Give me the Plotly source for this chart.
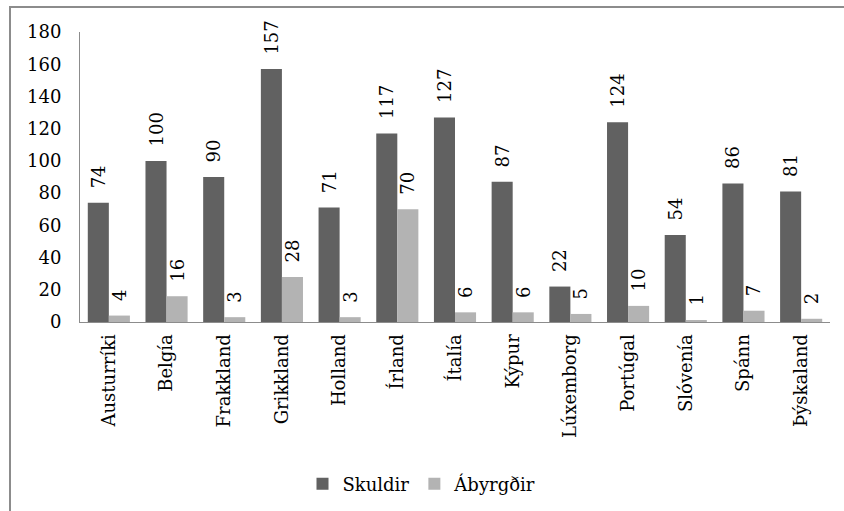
import plotly.graph_objects as go

categories = ["Austurríki", "Belgía", "Frakkland", "Grikkland", "Holland", "Írland",
              "Ítalía", "Kýpur", "Lúxemborg", "Portúgal", "Slóvenía", "Spánn", "Þýskaland"]
skuldir = [74, 100, 90, 157, 71, 117, 127, 87, 22, 124, 54, 86, 81]
abyrgdir = [4, 16, 3, 28, 3, 70, 6, 6, 5, 10, 1, 7, 2]
y_ticks = [0, 20, 40, 60, 80, 100, 120, 140, 160, 180]

FONT = "DejaVu Serif, Liberation Serif, serif"
FS = 18
PAD = "\u00a0\u00a0"

fig = go.Figure()
fig.add_trace(go.Bar(name="Skuldir", x=categories, y=skuldir, marker_color="#616161",
                     marker_line_width=0,
                     text=[PAD + str(v) for v in skuldir], textposition="outside", textangle=-90,
                     constraintext="none",
                     textfont=dict(family=FONT, size=FS, color="black"), cliponaxis=False))
fig.add_trace(go.Bar(name="Ábyrgðir", x=categories, y=abyrgdir, marker_color="#b3b3b3",
                     marker_line_width=0,
                     text=[PAD + str(v) for v in abyrgdir], textposition="outside", textangle=-90,
                     constraintext="none",
                     textfont=dict(family=FONT, size=FS, color="black"), cliponaxis=False))

L, R, T, B = 80, 14, 32, 189
W, H = 844, 511
pw, ph = W - L - R, H - T - B

fig.update_layout(
    width=W, height=H,
    margin=dict(l=L, r=R, t=T, b=B, autoexpand=False),
    paper_bgcolor="white", plot_bgcolor="white",
    barmode="group", bargap=0.27, bargroupgap=0,
    font=dict(family=FONT, size=FS, color="black"),
    showlegend=True,
    legend=dict(orientation="h", x=0.5, xanchor="center", xref="container",
                y=1 - 484 / H, yref="container", yanchor="middle",
                font=dict(family=FONT, size=FS, color="black"),
                traceorder="normal"),
    hovermode=False,
    xaxis=dict(tickangle=-90, showline=True, linecolor="#8c8c8c", linewidth=1, automargin=False,
               ticks="", showgrid=False, ticklabelstandoff=4,
               tickfont=dict(family=FONT, size=FS, color="black")),
    yaxis=dict(range=[0, 180], tickvals=y_ticks, showline=True, linecolor="#8c8c8c", linewidth=1,
               ticks="", showgrid=False, zeroline=False, ticklabelstandoff=14, automargin=False,
               tickfont=dict(family=FONT, size=FS, color="black")),
    shapes=[dict(type="rect", xref="paper", yref="paper",
                 x0=(10 - L) / pw, x1=1.5,
                 y0=-1.5, y1=(T + ph - 7) / ph,
                 line=dict(color="#8c8c8c", width=2), fillcolor="rgba(0,0,0,0)", layer="below")],
)

fig.write_html("out.html", config={"displayModeBar": False},
               post_script="document.body.style.margin='0';document.body.style.overflow='hidden';")
